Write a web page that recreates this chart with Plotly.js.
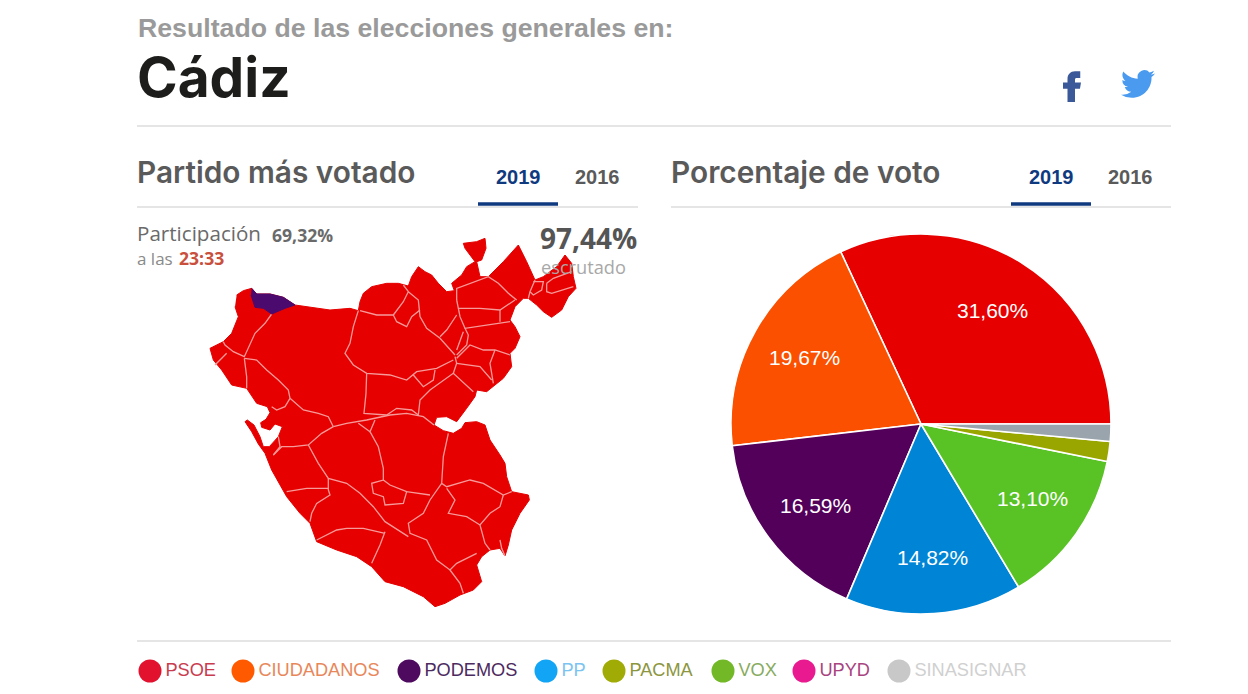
<!DOCTYPE html>
<html>
<head>
<meta charset="utf-8">
<script src="https://cdn.plot.ly/plotly-3.0.1.min.js"></script>
<style>
  html, body { margin: 0; padding: 0; background: #fff; overflow: hidden; }
  #chart { width: 1248px; height: 694px; }
</style>
</head>
<body>
<div id="chart"></div>
<script>
// vote share
const parties = ['PSOE', 'CIUDADANOS', 'PODEMOS', 'PP', 'VOX', 'PACMA', 'OTROS'];
const votes = [31.60, 19.67, 16.59, 14.82, 13.10, 1.68, 1.45];
const voteLabels = ['31,60%', '19,67%', '16,59%', '14,82%', '13,10%'];
const voteLabelX = [993, 804, 815, 932, 1032];
const voteLabelY = [310, 358, 505, 557, 499];
const pieColors = ['#e60000', '#fa5000', '#52005a', '#0085d6', '#59c225', '#9aa600', '#9aa4ac'];

// legend row
const legendNames = ['PSOE', 'CIUDADANOS', 'PODEMOS', 'PP', 'PACMA', 'VOX', 'UPYD', 'SINASIGNAR'];
const legendColors = ['#e2112e', '#ff5a00', '#4d0a5f', '#13a5f5', '#a0ab05', '#72b827', '#e9198f', '#c8c8c8'];
const legendTextColors = ['#c93c50', '#e8875a', '#4d2a5f', '#7cc4f0', '#8c9640', '#87ab5e', '#a8447f', '#d0d0d0'];
const legendDotX = [150, 243, 409, 546, 614, 723, 804, 899];

// map of the province, in map units
const coastX = [140,160,185,200,240,280,315,360,420,480,505,510,520,545,590,625,655,665,685,705,725,745,770,793,785,815,830,855,825,820,860,885,888,875,860,870,895,940,985,1010,1035,1060,1100,1125,1145,1150,1158,1135,1115,1085,1060,1040,1015,1000,975,960,975,990,975,960,965,940,910,890,860,855,830,800,770,740,732,760,790,815,825,860,885,900,930,945,950,965,1015,1018,990,965,955,945,930,900,875,860,875,850,810,765,735,700,640,585,545,500,440,380,360,330,290,245,225,205,185,165,172,192,210,220,238,265,277,255,240,215,212,228,240,232,200,170,125,95,70,60,100,125,145,135];
const coastY = [225,212,205,222,222,232,255,262,270,265,272,245,220,200,190,190,198,170,140,155,165,190,215,212,190,165,140,125,85,70,65,55,85,120,125,170,170,125,75,125,180,170,140,105,130,170,205,230,270,292,275,255,235,235,260,300,320,350,385,400,440,475,500,515,510,530,565,605,590,592,615,632,640,625,608,605,615,660,705,730,770,815,825,840,880,930,975,1008,985,990,1010,1035,1085,1110,1125,1150,1160,1130,1100,1085,1040,1010,990,965,910,880,830,750,700,672,635,605,600,615,650,680,680,650,620,612,630,622,608,598,578,560,550,505,495,450,420,385,365,340,290,260];
const podemosX = [185,200,240,280,315,285,245,220,195,183];
const podemosY = [205,222,222,232,255,265,282,265,262,225];
// municipal borders, one list per line
const borderLines = [
  [[245,282],[225,310],[195,340],[178,375],[163,410],[130,395],[105,375],[100,365]],
  [[110,400],[75,435]],
  [[163,415],[170,470],[170,505]],
  [[163,415],[200,420],[230,450],[265,480],[295,510],[300,535],[285,560],[260,570],[245,560]],
  [[300,535],[340,570],[385,580],[415,590],[430,620]],
  [[505,272],[490,320],[480,370],[465,400],[490,435],[530,460],[600,465],[650,480],[680,455],[740,445],[790,420]],
  [[510,272],[560,285],[610,285],[640,245],[655,215],[640,195]],
  [[655,215],[685,240],[690,290],[710,325],[750,355],[795,405]],
  [[610,285],[620,305],[650,320],[665,290],[690,270]],
  [[530,460],[528,520],[522,580],[590,585],[620,565],[665,570],[685,585],[690,540],[720,510],[760,480],[790,460],[850,515]],
  [[790,460],[800,430],[795,410]],
  [[670,465],[700,500],[730,480],[735,450]],
  [[430,620],[470,610],[530,600],[600,585],[650,580],[700,590],[732,615]],
  [[430,620],[395,640],[355,675],[310,680],[275,680],[250,705]],
  [[355,675],[385,730],[415,775],[470,790],[510,820],[550,860],[585,905],[655,950]],
  [[505,610],[540,635],[555,600]],
  [[540,635],[565,680],[580,745],[580,780],[545,790],[550,820],[580,830],[585,855],[640,850],[650,815],[720,825]],
  [[580,780],[600,795],[650,815]],
  [[775,640],[760,710],[755,790],[770,800],[840,780],[880,790],[940,825],[965,815]],
  [[755,790],[720,840],[700,880],[655,910],[660,940],[710,960],[740,1020],[780,1050],[800,1030],[860,1000]],
  [[770,805],[795,840],[775,880],[830,890],[870,915],[900,880],[930,860],[940,825]],
  [[870,915],[885,970],[900,990]],
  [[780,1050],[810,1090],[820,1120]],
  [[930,960],[935,985],[945,1008]],
  [[585,935],[570,975],[545,1030]],
  [[585,940],[520,925],[470,925],[440,930],[380,960]],
  [[415,775],[415,810],[420,825],[380,850],[365,880],[360,905]],
  [[415,805],[350,805],[290,815]],
  [[250,705],[270,680],[265,650]],
  [[800,240],[800,205],[895,170],[925,190],[955,220],[980,240]],
  [[805,265],[870,265],[930,270],[975,240]],
  [[800,240],[805,265],[810,290],[825,325],[895,315],[960,305]],
  [[930,270],[930,305]],
  [[800,285],[770,330],[750,350]],
  [[825,325],[835,345],[830,375],[800,405]],
  [[800,390],[810,360],[820,335]],
  [[800,415],[840,375],[880,390],[915,390],[960,405]],
  [[915,390],[900,430],[910,490]],
  [[800,430],[830,435],[870,440],[905,480]],
  [[1035,180],[1020,215],[1015,235]],
  [[1030,185],[1060,185],[1055,210],[1030,225],[1020,215]],
  [[1070,190],[1070,215],[1085,220],[1150,200]],
  [[1070,190],[1090,175],[1145,155]]
];

const W = 1248, H = 694;
const px = x => x / W;
const py = y => 1 - y / H;

// flatten the border lists with gaps so one trace draws them all
const borderX = [], borderY = [];
borderLines.forEach(line => {
  line.forEach(p => { borderX.push(p[0]); borderY.push(p[1]); });
  borderX.push(null); borderY.push(null);
});

const data = [
  {
    type: 'scatter', mode: 'lines', x: coastX, y: coastY, fill: 'toself', fillcolor: '#e60000',
    line: { color: '#e60000', width: 1 }, hoverinfo: 'skip', showlegend: false,
  },
  {
    type: 'scatter', mode: 'lines', x: borderX, y: borderY, connectgaps: false,
    line: { color: '#f79a9a', width: 1.3 }, hoverinfo: 'skip', showlegend: false,
  },
  {
    type: 'scatter', mode: 'lines', x: podemosX, y: podemosY, fill: 'toself', fillcolor: '#4b0a6e',
    line: { color: '#4b0a6e', width: 1 }, hoverinfo: 'skip', showlegend: false,
  },
  {
    type: 'pie', labels: parties, values: votes, textinfo: 'none', sort: false,
    direction: 'counterclockwise', rotation: -25,
    domain: { x: [px(731), px(1111)], y: [py(614), py(234)] },
    marker: { colors: pieColors, line: { color: '#ffffff', width: 1.6 } },
    hoverinfo: 'skip', showlegend: false,
  },
  {
    type: 'scatter', mode: 'markers+text', xaxis: 'x2', yaxis: 'y2',
    x: legendDotX, y: legendDotX.map(() => 671), text: legendNames, textposition: 'middle right',
    marker: { size: 23, color: legendColors },
    textfont: { family: 'Liberation Sans', size: 18.2, color: legendTextColors },
    hoverinfo: 'skip', showlegend: false,
  },
];

function label(text, x, y, size, color, family, weight, anchor) {
  return {
    text: text, x: px(x), y: py(y), xref: 'paper', yref: 'paper', showarrow: false,
    xanchor: anchor || 'left', yanchor: 'middle',
    font: { size: size, color: color, family: family, weight: weight || 400 },
  };
}

const SANS = 'Liberation Sans';
const HEAD = 'Inter';

const annotations = [
  label('Resultado de las elecciones generales en:', 136, 28, 26.7, '#9a9a9a', SANS, 700),
  label('Cádiz', 135, 77, 55, '#1d1d1b', HEAD, 700),
  label('Partido más votado', 135, 172, 29.8, '#5a5a5a', HEAD, 600),
  label('Porcentaje de voto', 669, 172, 29.8, '#5a5a5a', HEAD, 600),
  label('2019', 518, 177, 20, '#0f3a80', SANS, 700, 'center'),
  label('2016', 597, 177, 20, '#5a5a5a', SANS, 700, 'center'),
  label('2019', 1051, 177, 20, '#0f3a80', SANS, 700, 'center'),
  label('2016', 1130, 177, 20, '#5a5a5a', SANS, 700, 'center'),
  label('Participación', 135, 233, 20.6, '#6a6a6a', 'Open Sans'),
  label('69,32%', 270, 235, 17.6, '#6a6a6a', 'Open Sans', 700),
  label('a las', 135, 258, 17, '#8a8a8a', 'Open Sans'),
  label('23:33', 177, 258, 17.6, '#c9503c', 'Open Sans', 700),
  label('97,44%', 639, 238, 28, '#555555', 'Open Sans', 700, 'right'),
  label('escrutado', 628, 267, 18.2, '#a8a8a8', 'Open Sans', 400, 'right'),
].concat(voteLabels.map((t, i) => label(t, voteLabelX[i], voteLabelY[i], 21, '#ffffff', SANS, 400, 'center')));

function rule(x0, x1, y, color, width) {
  return {
    type: 'line', xref: 'paper', yref: 'paper', x0: px(x0), x1: px(x1), y0: py(y), y1: py(y),
    line: { color: color, width: width },
  };
}

const shapes = [
  rule(137, 1171, 126, '#dddddd', 1.5),
  rule(137, 638, 207, '#dddddd', 1.5),
  rule(671, 1171, 207, '#dddddd', 1.5),
  rule(478, 558, 204, '#0f3a80', 3.5),
  rule(1011, 1091, 204, '#0f3a80', 3.5),
  rule(137, 1171, 641, '#dddddd', 1.5),
];

const svgIcon = (path, color) => 'data:image/svg+xml;utf8,' + encodeURIComponent(
  '<svg xmlns="http://www.w3.org/2000/svg" viewBox="0 0 24 24"><path fill="' + color + '" d="' + path + '"/></svg>');

const fbPath = 'M14 8h3.5V3.5H14c-3 0-5 2.2-5 5V11H6v4.2h3V24h5v-8.800h3.300l.7-4.200h-4V9c0-.6.4-1 1-1z';
const twPath = 'M23.953 4.57a10 10 0 01-2.825.775 4.958 4.958 0 002.163-2.723c-.951.555-2.005.959-3.127 1.184a4.92 4.92 0 00-8.384 4.482C7.69 8.095 4.067 6.13 1.64 3.162a4.822 4.822 0 00-.666 2.475c0 1.71.87 3.213 2.188 4.096a4.904 4.904 0 01-2.228-.616v.06a4.923 4.923 0 003.946 4.827 4.996 4.996 0 01-2.212.085 4.936 4.936 0 004.604 3.417 9.867 9.867 0 01-6.102 2.105c-.39 0-.779-.023-1.170-.067a13.995 13.995 0 007.557 2.209c9.053 0 13.998-7.496 13.998-13.985 0-.21 0-.42-.015-.63A9.935 9.935 0 0024 4.59z';

const images = [
  { source: svgIcon(fbPath, '#3b5998'), xref: 'paper', yref: 'paper', x: px(1054), y: py(66), sizex: 36 / W, sizey: 36 / H, xanchor: 'left', yanchor: 'top', layer: 'above' },
  { source: svgIcon(twPath, '#4a9bf0'), xref: 'paper', yref: 'paper', x: px(1121), y: py(67), sizex: 34 / W, sizey: 34 / H, xanchor: 'left', yanchor: 'top', layer: 'above' },
];

const hiddenAxis = { visible: false, fixedrange: true, showgrid: false, zeroline: false };

const layout = {
  width: W,
  height: H,
  margin: { l: 0, r: 0, t: 0, b: 0 },
  paper_bgcolor: '#ffffff',
  plot_bgcolor: 'rgba(0,0,0,0)',
  showlegend: false,
  xaxis: Object.assign({}, hiddenAxis, { domain: [px(190), px(590)], range: [0, 1200] }),
  yaxis: Object.assign({}, hiddenAxis, { domain: [py(620), py(220)], range: [1200, 0] }),
  xaxis2: Object.assign({}, hiddenAxis, { domain: [0, 1], range: [0, W], anchor: 'y2' }),
  yaxis2: Object.assign({}, hiddenAxis, { domain: [0, 1], range: [H, 0], anchor: 'x2' }),
  annotations: annotations,
  shapes: shapes,
  images: images,
};

Plotly.newPlot('chart', data, layout, { displayModeBar: false, staticPlot: true });
</script>
</body>
</html>
